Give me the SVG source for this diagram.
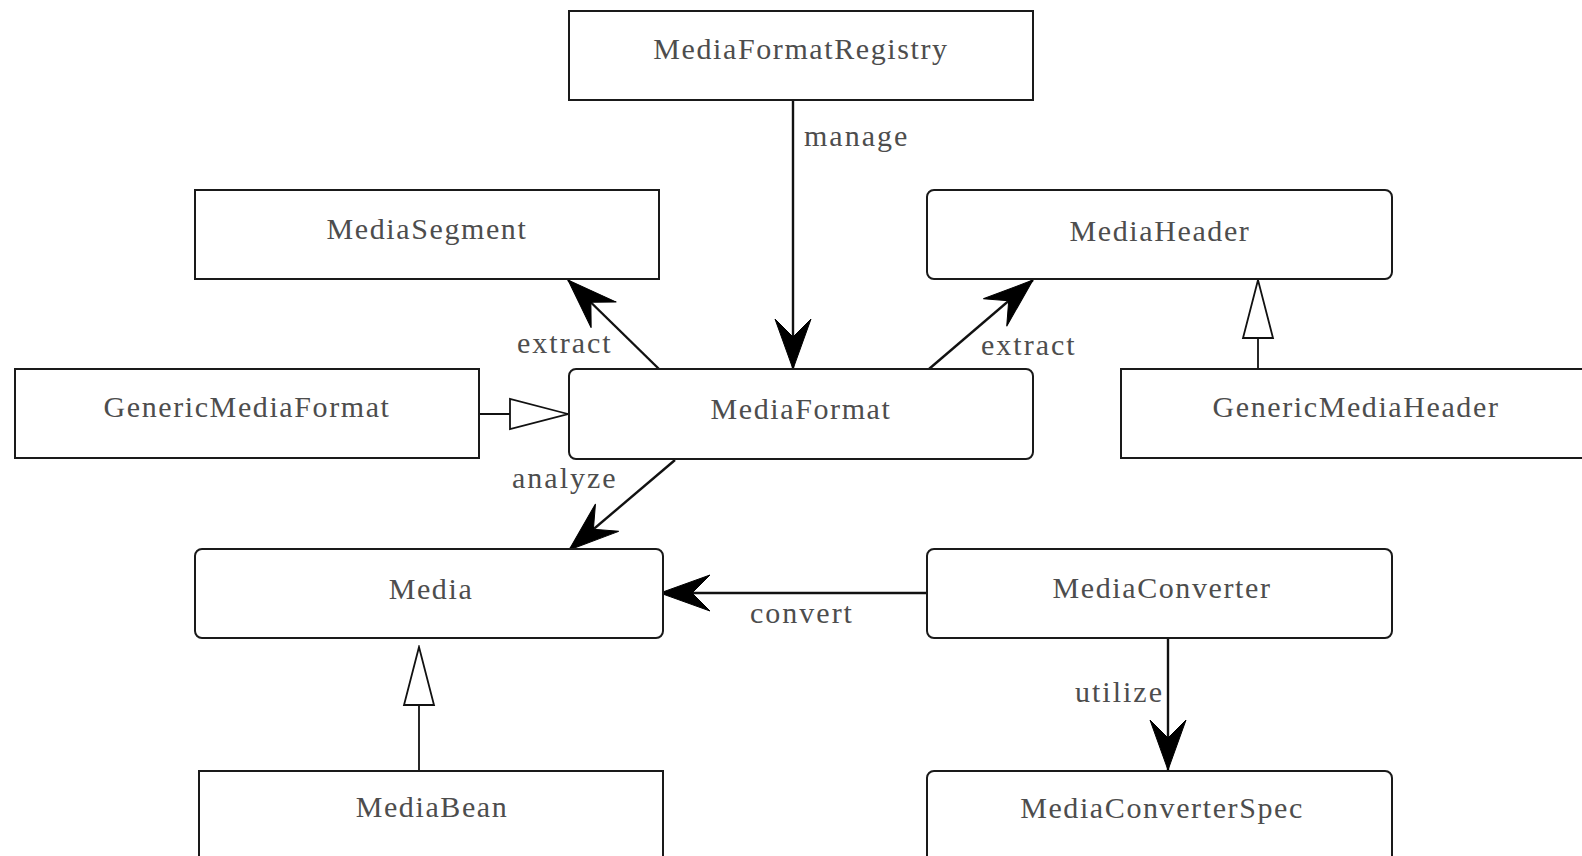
<svg xmlns="http://www.w3.org/2000/svg" width="1582" height="856" viewBox="0 0 1582 856">
  <style>
    .box { fill: #ffffff; stroke: #1a1a1a; stroke-width: 2; }
    .name { font-size: 30px; letter-spacing: 1.6px; fill: #4d4d4d; text-anchor: middle; }
    .label { font-size: 30px; letter-spacing: 2px; fill: #4d4d4d; }
    .assoc { fill: none; stroke: #111111; stroke-width: 2.4; marker-end: url(#filled); }
    .inherit { fill: none; stroke: #111111; stroke-width: 1.8; marker-end: url(#hollow); }
  </style>
  <defs>
    <!-- barbed solid head for associations -->
    <marker id="filled" markerUnits="userSpaceOnUse" viewBox="-54 -20 56 40" refX="0" refY="0" markerWidth="56" markerHeight="40" orient="auto">
      <path d="M0,0 L-50,-18 L-32,0 L-50,18 Z" fill="#000000" stroke="#000000" stroke-width="1"/>
    </marker>
    <!-- open triangle for generalization -->
    <marker id="hollow" markerUnits="userSpaceOnUse" viewBox="-62 -18 64 36" refX="0" refY="0" markerWidth="64" markerHeight="36" orient="auto">
      <path d="M0,0 L-58,-15 L-58,15 Z" fill="#ffffff" stroke="#111111" stroke-width="1.8" stroke-linejoin="miter"/>
    </marker>
  </defs>

  <rect x="0" y="0" width="1582" height="856" fill="#ffffff"/>

  <g id="connectors" font-family="Liberation Serif, serif">
    <path class="assoc" d="M793,100 L793,369"/>
    <path class="assoc" d="M659,369 L568,280"/>
    <path class="assoc" d="M929,369 L1033,280"/>
    <path class="assoc" d="M675,460 L569,550"/>
    <path class="assoc" d="M927,593 L660,593"/>
    <path class="assoc" d="M1168,638 L1168,770"/>
    <path class="inherit" d="M479,414 L568,414"/>
    <path class="inherit" d="M1258,369 L1258,280"/>
    <path class="inherit" d="M419,771 L419,647"/>
    <text class="label" x="804" y="146">manage</text>
    <text class="label" x="517" y="353">extract</text>
    <text class="label" x="981" y="355">extract</text>
    <text class="label" x="512" y="488">analyze</text>
    <text class="label" x="750" y="623">convert</text>
    <text class="label" x="1075" y="702">utilize</text>
  </g>

  <g id="nodes" font-family="Liberation Serif, serif">
  <g id="MediaFormatRegistry">
    <rect class="box" x="569" y="11" width="464" height="89"/>
    <text class="name" x="801" y="59">MediaFormatRegistry</text>
  </g>
  <g id="MediaSegment">
    <rect class="box" x="195" y="190" width="464" height="89"/>
    <text class="name" x="427" y="239">MediaSegment</text>
  </g>
  <g id="MediaHeader">
    <rect class="box" x="927" y="190" width="465" height="89" rx="7"/>
    <text class="name" x="1160" y="241">MediaHeader</text>
  </g>
  <g id="GenericMediaFormat">
    <rect class="box" x="15" y="369" width="464" height="89"/>
    <text class="name" x="247" y="417">GenericMediaFormat</text>
  </g>
  <g id="MediaFormat">
    <rect class="box" x="569" y="369" width="464" height="90" rx="7"/>
    <text class="name" x="801" y="419">MediaFormat</text>
  </g>
  <g id="GenericMediaHeader">
    <rect class="box" x="1121" y="369" width="470" height="89"/>
    <text class="name" x="1356" y="417">GenericMediaHeader</text>
  </g>
  <g id="Media">
    <rect class="box" x="195" y="549" width="468" height="89" rx="7"/>
    <text class="name" x="431" y="599">Media</text>
  </g>
  <g id="MediaConverter">
    <rect class="box" x="927" y="549" width="465" height="89" rx="7"/>
    <text class="name" x="1162" y="598">MediaConverter</text>
  </g>
  <g id="MediaBean">
    <rect class="box" x="199" y="771" width="464" height="100"/>
    <text class="name" x="432" y="817">MediaBean</text>
  </g>
  <g id="MediaConverterSpec">
    <rect class="box" x="927" y="771" width="465" height="100" rx="7"/>
    <text class="name" x="1162" y="818">MediaConverterSpec</text>
  </g>
  </g>
</svg>
